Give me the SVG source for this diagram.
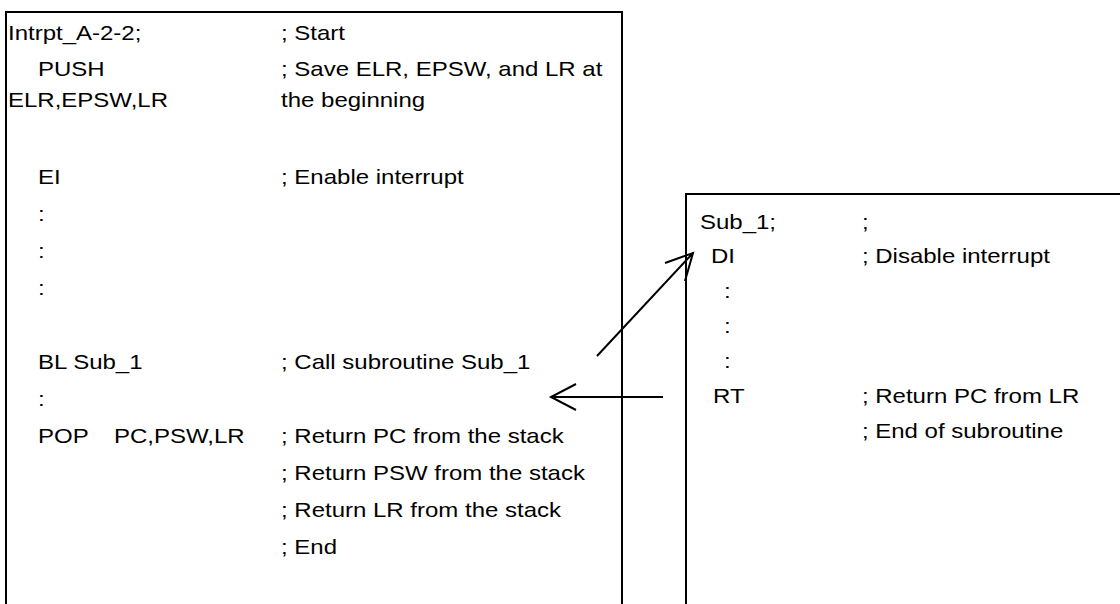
<svg xmlns="http://www.w3.org/2000/svg" width="1120" height="604" viewBox="0 0 1120 604">
  <style>
    .frame { fill: none; stroke: #000; stroke-width: 2; }
    .code { font-family: "Liberation Sans", Arial, sans-serif; font-size: 20px; fill: #000; }
    .arrow { fill: none; stroke: #000; stroke-width: 2; }
  </style>
  <rect width="1120" height="604" fill="#fff"/>

  <!-- interrupt handler listing (text set slightly wide) -->
  <g id="main-routine">
    <path class="frame" d="M6,620 V12 H622 V620"/>
    <g transform="scale(1.2 1)">
      <text class="code" x="6.7" y="40">Intrpt_A-2-2;</text>
      <text class="code" x="234.2" y="40">; Start</text>
      <text class="code" x="31.7" y="76">PUSH</text>
      <text class="code" x="234.2" y="76">; Save ELR, EPSW, and LR at</text>
      <text class="code" x="6.7" y="107">ELR,EPSW,LR</text>
      <text class="code" x="234.2" y="107">the beginning</text>
      <text class="code" x="31.7" y="184">EI</text>
      <text class="code" x="234.2" y="184">; Enable interrupt</text>
      <text class="code" x="31.7" y="221">:</text>
      <text class="code" x="31.7" y="258">:</text>
      <text class="code" x="31.7" y="295">:</text>
      <text class="code" x="31.7" y="369">BL Sub_1</text>
      <text class="code" x="234.2" y="369">; Call subroutine Sub_1</text>
      <text class="code" x="31.7" y="406">:</text>
      <text class="code" x="31.7" y="443">POP</text>
      <text class="code" x="95" y="443">PC,PSW,LR</text>
      <text class="code" x="234.2" y="443">; Return PC from the stack</text>
      <text class="code" x="234.2" y="480">; Return PSW from the stack</text>
      <text class="code" x="234.2" y="517">; Return LR from the stack</text>
      <text class="code" x="234.2" y="554">; End</text>
    </g>
  </g>

  <!-- subroutine listing -->
  <g id="subroutine">
    <path class="frame" d="M686,620 V194 H1130"/>
    <g transform="scale(1.2 1)">
      <text class="code" x="583.3" y="229">Sub_1;</text>
      <text class="code" x="718.3" y="229">;</text>
      <text class="code" x="592.5" y="263">DI</text>
      <text class="code" x="718.3" y="263">; Disable interrupt</text>
      <text class="code" x="603.3" y="298">:</text>
      <text class="code" x="603.3" y="333">:</text>
      <text class="code" x="603.3" y="368">:</text>
      <text class="code" x="594.2" y="403">RT</text>
      <text class="code" x="718.3" y="403">; Return PC from LR</text>
      <text class="code" x="718.3" y="438">; End of subroutine</text>
    </g>
  </g>

  <!-- call and return flow -->
  <g id="connectors">
    <path class="arrow" d="M597,356 L693,253 M665,263 L693,253 L685,281"/>
    <path class="arrow" d="M663,397 L551,397 M576,384 L551,397 L576,410"/>
  </g>
</svg>
